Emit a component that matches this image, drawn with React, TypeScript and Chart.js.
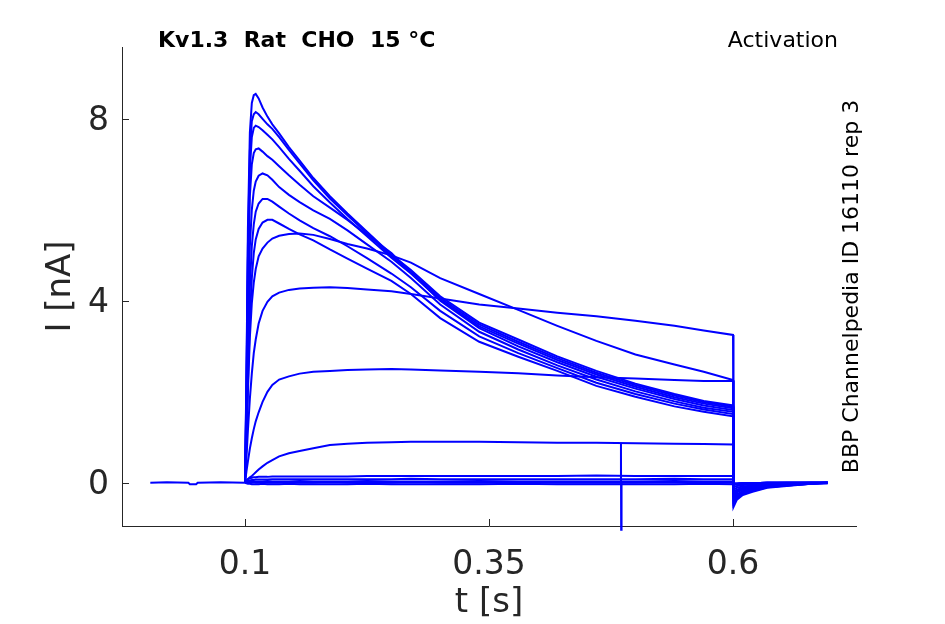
import React, { useEffect, useRef } from "react";
import { Chart, registerables } from "chart.js";

Chart.register(...registerables);

// axes
const xTicks = [0.1, 0.35, 0.6];
const yTicks = [0, 4, 8];

// holding potential before the step (all sweeps overlap here)
const baseT = [0.003, 0.02, 0.042, 0.0435, 0.05, 0.0515, 0.075, 0.1];
const baseI = [0, 0.01, 0, -0.03, -0.03, 0, 0.01, 0];

// sample times during the test pulse [s]
const stepT = [
  0.1, 0.1015, 0.103, 0.105, 0.107, 0.109, 0.111, 0.114, 0.118, 0.123, 0.128,
  0.135, 0.145, 0.156, 0.17, 0.187, 0.205, 0.225, 0.25, 0.27, 0.3, 0.34, 0.38,
  0.42, 0.46, 0.5, 0.54, 0.57, 0.6,
];
// sample times of the tail after the pulse [s]
const tailT = [0.6005, 0.604, 0.61, 0.62, 0.635, 0.655, 0.68, 0.697];

// sweep currents [nA], largest to smallest
const sweepA = [0, 2.4, 5.6, 7.7, 8.35, 8.52, 8.55, 8.45, 8.25, 8.05, 7.88, 7.68, 7.38, 7.08, 6.7, 6.3, 5.92, 5.52, 5.02, 4.68, 4.1, 3.52, 3.15, 2.78, 2.46, 2.18, 1.95, 1.8, 1.7];
const sweepB = [0, 2.2, 5.2, 7.3, 7.95, 8.1, 8.15, 8.1, 8.0, 7.88, 7.78, 7.6, 7.32, 7.02, 6.65, 6.25, 5.88, 5.48, 4.98, 4.64, 4.06, 3.48, 3.1, 2.74, 2.42, 2.15, 1.92, 1.77, 1.67];
const sweepC = [0, 2.0, 4.9, 6.9, 7.6, 7.8, 7.85, 7.82, 7.75, 7.65, 7.55, 7.38, 7.12, 6.86, 6.52, 6.16, 5.8, 5.42, 4.95, 4.6, 4.02, 3.44, 3.06, 2.7, 2.38, 2.11, 1.88, 1.74, 1.64];
const sweepD = [0, 1.8, 4.4, 6.3, 7.0, 7.25, 7.33, 7.35, 7.28, 7.18, 7.1, 6.96, 6.76, 6.55, 6.3, 6.05, 5.78, 5.45, 5.05, 4.62, 4.0, 3.4, 3.0, 2.65, 2.33, 2.07, 1.84, 1.7, 1.6];
const sweepE = [0, 1.4, 3.4, 5.2, 6.0, 6.42, 6.62, 6.75, 6.8, 6.76, 6.66, 6.5, 6.33, 6.17, 5.99, 5.8, 5.55, 5.24, 4.86, 4.5, 3.92, 3.32, 2.93, 2.58, 2.27, 2.01, 1.79, 1.65, 1.56];
const sweepF = [0, 1.1, 2.7, 4.3, 5.2, 5.68, 5.96, 6.14, 6.24, 6.24, 6.18, 6.07, 5.92, 5.77, 5.6, 5.42, 5.2, 4.94, 4.6, 4.3, 3.78, 3.22, 2.85, 2.52, 2.2, 1.95, 1.74, 1.61, 1.51];
const sweepG = [0, 0.9, 2.2, 3.6, 4.5, 5.05, 5.35, 5.58, 5.72, 5.78, 5.78, 5.7, 5.58, 5.46, 5.33, 5.13, 4.93, 4.71, 4.44, 4.15, 3.62, 3.1, 2.77, 2.46, 2.13, 1.89, 1.68, 1.56, 1.46];
const sweepH = [0, 0.9, 2.0, 3.2, 3.95, 4.4, 4.7, 4.98, 5.15, 5.28, 5.37, 5.43, 5.47, 5.48, 5.45, 5.36, 5.25, 5.15, 5.0, 4.84, 4.5, 4.15, 3.8, 3.45, 3.12, 2.82, 2.6, 2.44, 2.26];
const sweepI = [0, 0.55, 1.15, 1.85, 2.4, 2.85, 3.15, 3.5, 3.78, 3.98, 4.1, 4.18, 4.24, 4.27, 4.29, 4.3, 4.28, 4.25, 4.21, 4.15, 4.05, 3.92, 3.83, 3.74, 3.66, 3.56, 3.45, 3.35, 3.25];
const sweepJ = [0, 0.25, 0.47, 0.75, 0.98, 1.18, 1.35, 1.55, 1.78, 2.0, 2.15, 2.27, 2.34, 2.4, 2.44, 2.46, 2.48, 2.49, 2.5, 2.49, 2.47, 2.44, 2.41, 2.36, 2.32, 2.29, 2.26, 2.24, 2.24];
const sweepK = [0, 0.05, 0.08, 0.12, 0.15, 0.19, 0.23, 0.29, 0.36, 0.44, 0.5, 0.58, 0.65, 0.7, 0.76, 0.83, 0.86, 0.88, 0.89, 0.9, 0.9, 0.9, 0.89, 0.88, 0.88, 0.87, 0.86, 0.85, 0.84];
const sweepL = [0, 0.05, 0.08, 0.1, 0.11, 0.12, 0.12, 0.13, 0.13, 0.13, 0.14, 0.14, 0.14, 0.14, 0.14, 0.14, 0.14, 0.15, 0.15, 0.15, 0.15, 0.15, 0.15, 0.15, 0.16, 0.15, 0.15, 0.15, 0.15];
const sweepM = [0, 0.03, 0.04, 0.05, 0.06, 0.06, 0.07, 0.07, 0.07, 0.07, 0.08, 0.08, 0.08, 0.08, 0.08, 0.08, 0.08, 0.08, 0.08, 0.09, 0.08, 0.08, 0.08, 0.08, 0.08, 0.08, 0.09, 0.08, 0.08];
const sweepN = [0, 0.02, 0.03, 0.03, 0.03, 0.03, 0.03, 0.03, 0.03, 0.04, 0.03, 0.03, 0.03, 0.04, 0.03, 0.03, 0.03, 0.04, 0.03, 0.03, 0.03, 0.04, 0.03, 0.03, 0.03, 0.03, 0.04, 0.03, 0.03];
const sweepO = [0, 0, 0.01, 0, 0, 0.01, 0, 0, 0.01, 0, 0, 0, 0.01, 0, 0, 0.01, 0, 0, 0, 0.01, 0, 0, 0.01, 0, 0, 0, 0.01, 0, 0];
const sweepP = [0, -0.01, -0.02, -0.02, -0.03, -0.03, -0.03, -0.03, -0.02, -0.03, -0.03, -0.03, -0.02, -0.03, -0.03, -0.03, -0.03, -0.02, -0.03, -0.03, -0.03, -0.03, -0.02, -0.03, -0.03, -0.03, -0.03, -0.02, -0.03];

// tail currents [nA]
const tailA = [-0.53, -0.37, -0.27, -0.2, -0.11, -0.07, -0.02, -0.01];
const tailB = [-0.48, -0.34, -0.24, -0.18, -0.1, -0.06, -0.02, -0.01];
const tailC = [-0.44, -0.31, -0.22, -0.16, -0.09, -0.06, -0.02, 0];
const tailD = [-0.4, -0.28, -0.2, -0.15, -0.08, -0.05, -0.02, 0];
const tailE = [-0.35, -0.25, -0.18, -0.13, -0.07, -0.05, -0.01, 0];
const tailF = [-0.3, -0.21, -0.15, -0.11, -0.06, -0.04, -0.01, 0];
const tailG = [-0.26, -0.18, -0.13, -0.1, -0.05, -0.03, -0.01, 0];
const tailH = [-0.22, -0.15, -0.11, -0.08, -0.05, -0.03, -0.01, 0];
const tailI = [-0.16, -0.11, -0.08, -0.06, -0.03, -0.02, 0, 0];
const tailJ = [-0.1, -0.07, -0.05, -0.04, -0.02, -0.01, 0, 0];
const tailK = [-0.05, -0.04, -0.03, -0.02, -0.01, 0, 0, 0];
const tailSmall = [-0.02, -0.02, -0.01, -0.01, 0, 0, 0, 0];

// recording artefact
const spikeT = [0.4848, 0.4852, 0.4854, 0.4858];
const spikeI = [0.01, 0.87, -1.03, 0];

const sweeps = [
  [sweepA, tailA], [sweepB, tailB], [sweepC, tailC], [sweepD, tailD],
  [sweepE, tailE], [sweepF, tailF], [sweepG, tailG], [sweepH, tailH],
  [sweepI, tailI], [sweepJ, tailJ], [sweepK, tailK], [sweepL, tailSmall],
  [sweepM, tailSmall], [sweepN, tailSmall], [sweepO, tailSmall], [sweepP, tailSmall],
];

const INK = "#262626";
const BLUE = "#0000ff";
const FONT = "'DejaVu Sans', sans-serif";

const textPlugin = {
  id: "figureText",
  afterDraw(chart: any) {
    const { ctx, chartArea, scales } = chart;
    const { left, right, top, bottom } = chartArea;
    ctx.save();

    // inward tick marks
    ctx.strokeStyle = INK;
    ctx.lineWidth = 1;
    ctx.beginPath();
    xTicks.forEach((v) => {
      const x = Math.round(scales.x.getPixelForValue(v)) + 0.5;
      ctx.moveTo(x, bottom);
      ctx.lineTo(x, bottom - 7);
    });
    yTicks.forEach((v) => {
      const y = Math.round(scales.y.getPixelForValue(v)) + 0.5;
      ctx.moveTo(left, y);
      ctx.lineTo(left + 7, y);
    });
    ctx.stroke();

    // axis titles
    ctx.fillStyle = INK;
    ctx.font = `34px ${FONT}`;
    ctx.textAlign = "center";
    ctx.textBaseline = "middle";
    ctx.fillText("t [s]", (left + right) / 2, 603);
    ctx.save();
    ctx.translate(61, (top + bottom) / 2);
    ctx.rotate(-Math.PI / 2);
    ctx.fillText("I [nA]", 0, 0);
    ctx.restore();

    // annotations
    ctx.fillStyle = "#000000";
    ctx.textBaseline = "alphabetic";
    ctx.font = `bold 22px ${FONT}`;
    ctx.textAlign = "left";
    ctx.fillText("Kv1.3  Rat  CHO  15 °C", left + 36, top);
    ctx.font = `22px ${FONT}`;
    ctx.textAlign = "right";
    ctx.fillText("Activation", right - 18, top);
    ctx.save();
    ctx.translate(right + 2, (top + bottom) / 2);
    ctx.rotate(-Math.PI / 2);
    ctx.textAlign = "center";
    ctx.fillText("BBP Channelpedia ID 16110 rep 3", 0, 0);
    ctx.restore();

    ctx.restore();
  },
};

const App: React.FC = () => {
  const canvasRef = useRef<HTMLCanvasElement | null>(null);

  useEffect(() => {
    document.body.style.margin = "0";
    if (!canvasRef.current) return;

    const lineStyle = {
      borderColor: BLUE,
      borderWidth: 2,
      pointRadius: 0,
      tension: 0,
      fill: false,
    };

    const datasets: any[] = [
      { ...lineStyle, data: baseT.map((t, i) => ({ x: t, y: baseI[i] })) },
      ...sweeps.map(([vals, tail]) => ({
        ...lineStyle,
        data: [
          ...stepT.map((t, i) => ({ x: t, y: vals[i] })),
          ...tailT.map((t, i) => ({ x: t, y: tail[i] })),
        ],
      })),
      { ...lineStyle, clip: false, data: spikeT.map((t, i) => ({ x: t, y: spikeI[i] })) },
    ];

    const tickFont = { family: FONT, size: 33 };

    const chart = new Chart(canvasRef.current, {
      type: "line",
      data: { datasets },
      options: {
        animation: false,
        responsive: true,
        maintainAspectRatio: false,
        layout: { padding: { left: 0, right: 89, top: 47, bottom: 0 } },
        plugins: { legend: { display: false }, tooltip: { enabled: false } },
        scales: {
          x: {
            type: "linear",
            min: -0.026,
            max: 0.726,
            afterBuildTicks: (s: any) => {
              s.ticks = xTicks.map((v) => ({ value: v }));
            },
            afterFit: (s: any) => {
              s.height = 98;
            },
            grid: { display: false, drawTicks: false },
            border: { display: true, color: INK, width: 1 },
            ticks: {
              font: tickFont,
              color: INK,
              padding: 20,
              maxRotation: 0,
              autoSkip: false,
              callback: (v: any) => String(v),
            },
          },
          y: {
            type: "linear",
            min: -0.95,
            max: 9.58,
            afterBuildTicks: (s: any) => {
              s.ticks = yTicks.map((v) => ({ value: v }));
            },
            afterFit: (s: any) => {
              s.width = 122;
            },
            grid: { display: false, drawTicks: false },
            border: { display: true, color: INK, width: 1 },
            ticks: {
              font: tickFont,
              color: INK,
              padding: 13,
              labelOffset: 3,
              autoSkip: false,
              callback: (v: any) => String(v),
            },
          },
        },
      },
      plugins: [textPlugin],
    });

    return () => {
      chart.destroy();
    };
  }, []);

  return (
    <div style={{ position: "relative", width: 945, height: 624 }}>
      <canvas ref={canvasRef}></canvas>
    </div>
  );
};

export default App;
